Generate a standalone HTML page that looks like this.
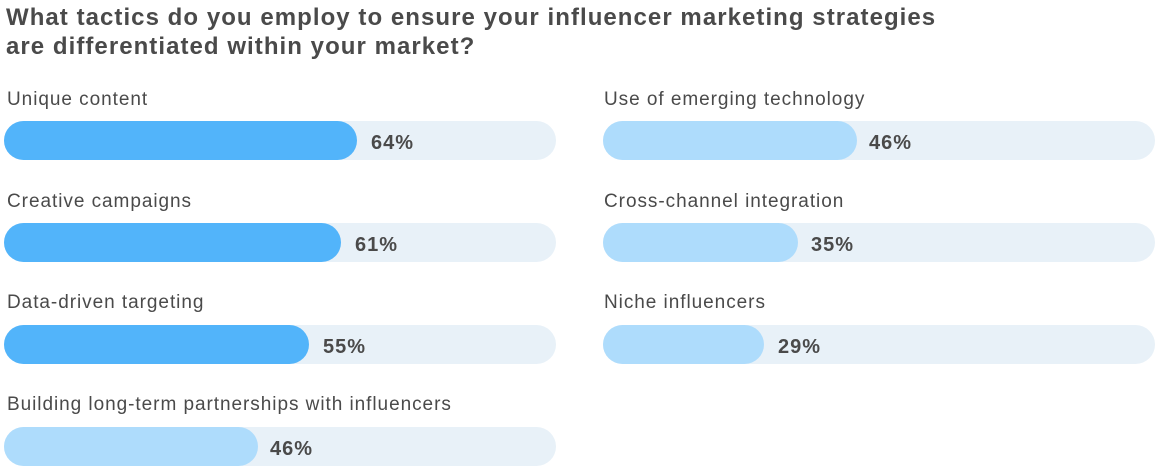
<!DOCTYPE html>
<html><head><meta charset="utf-8"><style>
body{margin:0;width:1155px;height:471px;background:#fff;font-family:"Liberation Sans",sans-serif;position:relative;overflow:hidden;color:#4a4a4a}
.t{position:absolute;left:6px;top:3px;font-size:24px;font-weight:bold;line-height:29px;color:#4a4a4a;letter-spacing:1.05px}
.l{position:absolute;font-size:19px;color:#4a4a4a;white-space:nowrap;letter-spacing:0.95px}
.tr{position:absolute;width:552px;height:39px;border-radius:20px;background:#e8f1f8}
.f{position:absolute;left:0;top:0;height:39px;border-radius:20px}
.d{background:#52b4fa}.g{background:#aedcfc}
.p{position:absolute;top:2px;line-height:40px;font-size:20px;font-weight:bold;color:#4a4a4a;letter-spacing:1px}
</style></head><body>
<div class="t">What tactics do you employ to ensure your influencer marketing strategies<br>are differentiated within your market?</div>

<div class="l" style="left:7px;top:89px">Unique content</div>
<div class="tr" style="left:4px;top:121px"><div class="f d" style="width:353px"></div><div class="p" style="left:367px">64%</div></div>
<div class="l" style="left:7px;top:191px">Creative campaigns</div>
<div class="tr" style="left:4px;top:223px"><div class="f d" style="width:337px"></div><div class="p" style="left:351px">61%</div></div>
<div class="l" style="left:7px;top:292px">Data-driven targeting</div>
<div class="tr" style="left:4px;top:325px"><div class="f d" style="width:305px"></div><div class="p" style="left:319px">55%</div></div>
<div class="l" style="left:7px;top:394px">Building long-term partnerships with influencers</div>
<div class="tr" style="left:4px;top:427px"><div class="f g" style="width:254px"></div><div class="p" style="left:266px">46%</div></div>

<div class="l" style="left:604px;top:89px">Use of emerging technology</div>
<div class="tr" style="left:603px;top:121px"><div class="f g" style="width:254px"></div><div class="p" style="left:266px">46%</div></div>
<div class="l" style="left:604px;top:191px">Cross-channel integration</div>
<div class="tr" style="left:603px;top:223px"><div class="f g" style="width:195px"></div><div class="p" style="left:208px">35%</div></div>
<div class="l" style="left:604px;top:292px">Niche influencers</div>
<div class="tr" style="left:603px;top:325px"><div class="f g" style="width:161px"></div><div class="p" style="left:175px">29%</div></div>
</body></html>
